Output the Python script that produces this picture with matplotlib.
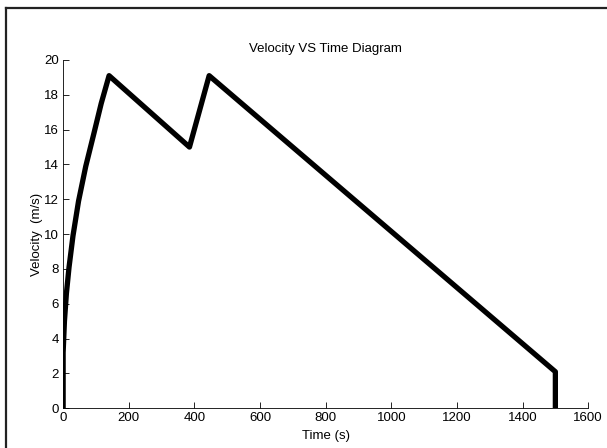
import matplotlib.pyplot as plt
from matplotlib.lines import Line2D

# velocity profile
time_s = [0, 0, 4, 10, 18, 30, 47, 69, 94, 116, 140, 385, 445, 1500, 1500]
velocity = [0, 3.2, 5.0, 6.6, 8.1, 9.9, 11.9, 13.9, 15.8, 17.5, 19.1, 15.0, 19.1, 2.1, 0]

x_ticks = [0, 200, 400, 600, 800, 1000, 1200, 1400, 1600]
y_ticks = [0, 2, 4, 6, 8, 10, 12, 14, 16, 18, 20]

plt.rcParams['font.family'] = ['Liberation Sans', 'DejaVu Sans']

fig = plt.figure(figsize=(6.07, 4.48), dpi=100)
ax = fig.add_axes([0.104, 0.0886, 0.865, 0.7775])

ax.plot(time_s, velocity, color='black', linewidth=3.8, solid_capstyle='butt')

ax.set_xlim(0, 1600)
ax.set_ylim(0, 20)
ax.set_xticks(x_ticks)
ax.set_yticks(y_ticks)
ax.tick_params(direction='in', length=4, width=0.6, labelsize=9.5, colors='black', pad=3)
for s in ['top', 'right']:
    ax.spines[s].set_visible(False)
for s in ['left', 'bottom']:
    ax.spines[s].set_linewidth(0.6)

ax.set_title('Velocity VS Time Diagram', fontsize=9.5, pad=6)
ax.set_xlabel('Time (s)', fontsize=9.5, labelpad=4)
ax.set_ylabel('Velocity  (m/s)', fontsize=9.5, labelpad=1)

# frame around the figure (only top and left edges are visible in the reference)
fig.add_artist(Line2D([0.010, 1.0], [0.982, 0.982], transform=fig.transFigure,
                      color='#222222', linewidth=1.6))
fig.add_artist(Line2D([0.010, 0.010], [0.0, 0.982], transform=fig.transFigure,
                      color='#222222', linewidth=1.6))

fig.savefig('out.png', dpi=100)
